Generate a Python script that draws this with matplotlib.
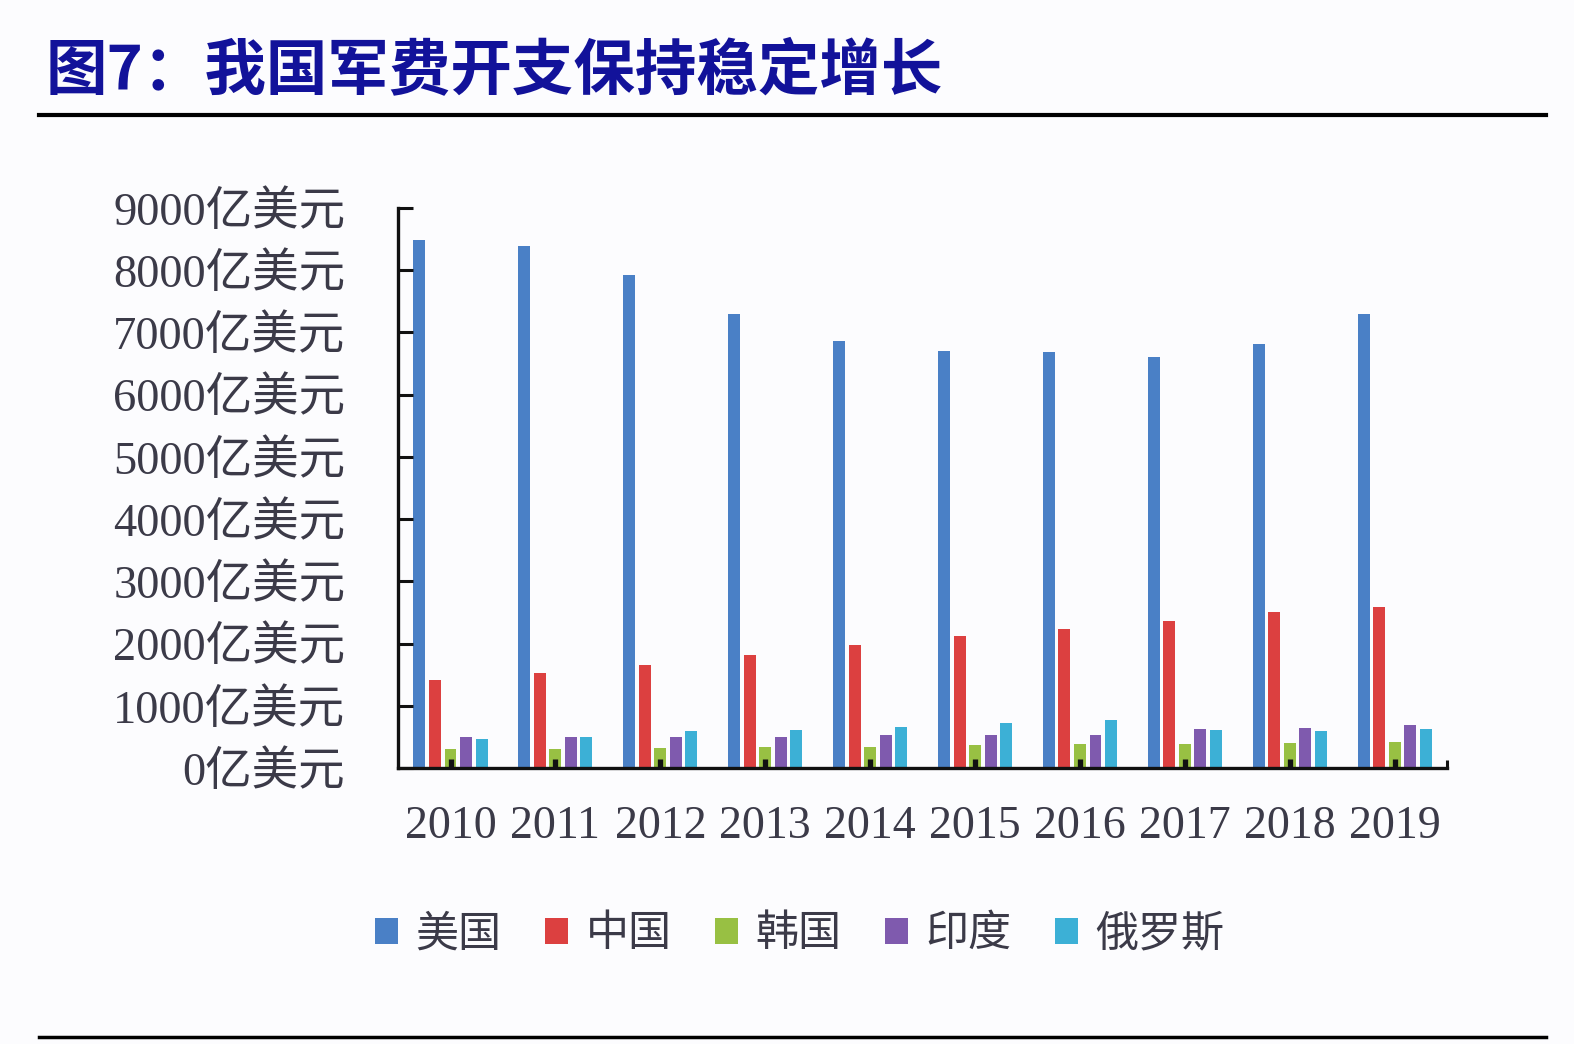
import numpy as np
import matplotlib
matplotlib.use("Agg")
import matplotlib.pyplot as plt
from matplotlib.lines import Line2D

# data (亿美元)
years = ['2010', '2011', '2012', '2013', '2014', '2015', '2016', '2017', '2018', '2019']
countries = ['美国', '中国', '韩国', '印度', '俄罗斯']
usa = [8490, 8390, 7920, 7300, 6860, 6700, 6680, 6610, 6820, 7300]
china = [1410, 1520, 1660, 1815, 1980, 2115, 2230, 2355, 2510, 2585]
korea = [310, 310, 320, 330, 340, 375, 385, 385, 405, 415]
india = [500, 500, 500, 500, 525, 525, 525, 625, 640, 695]
russia = [465, 500, 590, 610, 655, 715, 770, 610, 590, 625]
yticks = [0, 1000, 2000, 3000, 4000, 5000, 6000, 7000, 8000, 9000]
ytick_labels = ['%d亿美元' % v for v in yticks]

colors = ['#4a80c6', '#dc4040', '#98c043', '#7f5aae', '#3cb0d6']
series = [usa, china, korea, india, russia]

txt_col = '#3b3a48'
fam = ['Liberation Serif', 'Noto Sans CJK SC']

fig = plt.figure(figsize=(15.74, 10.44), dpi=100)
fig.patch.set_facecolor('#fcfcfe')

# title and rules
fig.text(0.029, 0.931, '图7：我国军费开支保持稳定增长', fontsize=44.3, fontweight='bold',
         color='#12129a', family=['Noto Sans CJK SC'], va='center', ha='left')
fig.add_artist(Line2D([0.025, 0.982], [0.890, 0.890], color='black', lw=3))
fig.add_artist(Line2D([0.025, 0.982], [0.007, 0.007], color='black', lw=2.5))

ax = fig.add_axes([0.2529, 0.2644, 0.6665, 0.5364])
ax.set_facecolor('none')
ax.set_axisbelow(False)

x = np.arange(len(years))
step = 0.148
width = 0.114
bars = []
for i, (vals, c) in enumerate(zip(series, colors)):
    b = ax.bar(x + (i - 2) * step, vals, width=width, color=c, zorder=2)
    bars.append(b)

ax.set_xlim(-0.5, 9.5)
ax.set_ylim(0, 9000)
for s in ['top', 'right']:
    ax.spines[s].set_visible(False)
for s in ['left', 'bottom']:
    ax.spines[s].set_linewidth(2.4)
    ax.spines[s].set_color('#111111')

ax.set_yticks(yticks)
ax.set_yticklabels(ytick_labels, family=fam, fontsize=33.5, color=txt_col)
ax.set_xticks(x)
ax.set_xticklabels(years, family=fam, fontsize=33, color=txt_col)
ax.set_xticks([9.5], minor=True)
ax.tick_params(axis='y', direction='in', length=10.5, width=2.2, pad=38, color='#111111')
ax.tick_params(axis='x', which='major', direction='in', length=6.5, width=3.8, pad=27, color='#111111')
ax.tick_params(axis='x', which='minor', direction='in', length=6, width=2.2, color='#111111')

leg = fig.legend([b[0] for b in bars], countries, loc='center', bbox_to_anchor=(0.508, 0.104),
                 ncol=5, frameon=False, prop={'family': fam, 'size': 31},
                 handlelength=0.55, handleheight=0.55, handletextpad=0.4, columnspacing=1.0)
for t in leg.get_texts():
    t.set_color(txt_col)

fig.savefig('out.png', dpi=100, facecolor=fig.get_facecolor())
